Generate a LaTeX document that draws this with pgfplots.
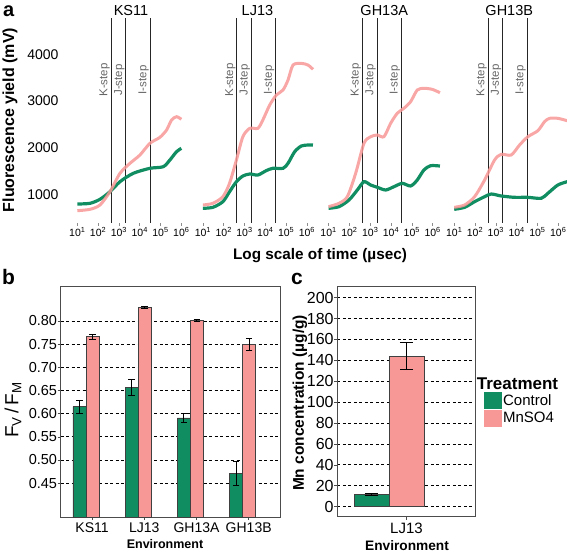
\documentclass[border=0pt]{standalone}
\usepackage{fontspec}
\setmainfont{Liberation Sans}
\usepackage{pgfplots}
\pgfplotsset{compat=1.18}
\definecolor{cgreen}{RGB}{17,141,98}
\definecolor{cpink}{RGB}{248,152,150}
\newcommand{\fs}[1]{\fontsize{#1}{#1}\selectfont}
\tikzset{
  gline/.style={cgreen, line width=3.2pt, smooth, tension=0.45},
  pline/.style={cpink, line width=3pt, opacity=0.85, smooth, tension=0.45},
  vl/.style={black!85, line width=0.6pt},
  stp/.style={rotate=90, anchor=south, inner sep=1pt, text=black!60, font=\fs{11.5}},
  strip/.style={anchor=base, font=\fs{14.5}},
}
\pgfplotsset{
  facet/.style={scale only axis, width=124pt, height=205pt,
    xmin=0.73, xmax=6.69, ymin=385, ymax=4778,
    axis line style={draw=none}, clip=false,
    xtick={1,2,3,4,5,6},
    xticklabels={10\textsuperscript{1},10\textsuperscript{2},10\textsuperscript{3},10\textsuperscript{4},10\textsuperscript{5},10\textsuperscript{6}},
    xtick pos=lower, tick align=outside, major tick length=3pt,
    x tick style={black!45, line width=0.6pt},
    xticklabel style={font=\fs{10.5}, inner sep=1.5pt},
    ytick=\empty},
  barax/.style={scale only axis, ybar, tick align=outside, major tick length=3pt,
    tick style={black!70, line width=0.6pt}, xtick pos=lower, ytick pos=left,
    axis line style={black!70, line width=0.8pt},
    ymajorgrids, major grid style={black, line width=0.8pt, dash pattern=on 3pt off 2.5pt}},
  bstyle/.style={draw=black!75, line width=0.6pt, bar shift=0pt,
    error bars/.cd, y dir=both, y explicit,
    error bar style={black, line width=1pt},
    error mark options={black, rotate=90, mark size=#1, line width=1pt}},
}
\begin{document}
\begin{tikzpicture}[x=1pt,y=1pt]
\useasboundingbox (0,0) rectangle (567,552);

% ---------------- panel a ----------------
\begin{axis}[facet, at={(71.7pt,329pt)},
  ytick={1000,2000,3000,4000}, yticklabels={1000,2000,3000,4000},
  ytick pos=left, y tick style={draw=none},
  yticklabel style={font=\fs{14}, inner sep=0pt, xshift=-10pt}]
\addplot[vl] coordinates {(2.62,385) (2.62,4778)};
\addplot[vl] coordinates {(3.32,385) (3.32,4778)};
\addplot[vl] coordinates {(4.49,385) (4.49,4778)};
\addplot[gline] coordinates {(1.0,792)(1.61,807)(2.09,893)(2.57,1056)(3.05,1270)(3.69,1450)(4.49,1557)(5.13,1591)(5.45,1735)(5.77,1913)(6.0,1985)};
\addplot[pline] coordinates {(1.0,649)(1.61,678)(2.09,771)(2.57,1056)(3.05,1450)(3.53,1664)(4.01,1842)(4.49,2093)(4.97,2221)(5.29,2378)(5.53,2592)(5.77,2663)(6.0,2607)};
\node[stp] at (axis cs:2.62,3450) {K-step};
\node[stp] at (axis cs:3.32,3450) {J-step};
\node[stp] at (axis cs:4.49,3450) {I-step};
\node[strip] at (rel axis cs:0.478,1.0146) {KS11};
\end{axis}

\begin{axis}[facet, at={(197.3pt,329pt)}]
\addplot[vl] coordinates {(2.62,385) (2.62,4778)};
\addplot[vl] coordinates {(3.32,385) (3.32,4778)};
\addplot[vl] coordinates {(4.49,385) (4.49,4778)};
\addplot[gline] coordinates {(1.0,700)(1.48,721)(1.96,842)(2.28,1056)(2.61,1270)(2.92,1392)(3.25,1435)(3.64,1413)(4.04,1506)(4.36,1557)(4.85,1557)(5.09,1664)(5.41,1913)(5.73,2035)(6.05,2056)(6.29,2056)};
\addplot[pline] coordinates {(1.0,771)(1.48,807)(1.96,950)(2.28,1236)(2.61,1735)(2.92,2234)(3.25,2414)(3.64,2414)(3.88,2592)(4.21,2913)(4.53,3128)(4.85,3235)(5.09,3449)(5.33,3770)(5.73,3806)(6.05,3770)(6.29,3678)};
\node[stp] at (axis cs:2.62,3450) {K-step};
\node[stp] at (axis cs:3.32,3450) {J-step};
\node[stp] at (axis cs:4.49,3450) {I-step};
\node[strip] at (rel axis cs:0.485,1.0146) {LJ13};
\end{axis}

\begin{axis}[facet, at={(323pt,329pt)}]
\addplot[vl] coordinates {(2.62,385) (2.62,4778)};
\addplot[vl] coordinates {(3.32,385) (3.32,4778)};
\addplot[vl] coordinates {(4.49,385) (4.49,4778)};
\addplot[gline] coordinates {(1.0,700)(1.50,735)(1.98,878)(2.38,1092)(2.70,1270)(3.02,1199)(3.34,1150)(3.74,1092)(4.14,1163)(4.54,1235)(4.94,1178)(5.26,1306)(5.58,1521)(5.90,1613)(6.35,1606)};
\addplot[pline] coordinates {(1.0,735)(1.50,807)(1.90,950)(2.30,1450)(2.70,2093)(3.02,2234)(3.34,2271)(3.66,2234)(3.98,2521)(4.30,2736)(4.62,2843)(4.94,2984)(5.26,3235)(5.58,3271)(5.98,3249)(6.35,3177)};
\node[stp] at (axis cs:2.62,3450) {K-step};
\node[stp] at (axis cs:3.32,3450) {J-step};
\node[stp] at (axis cs:4.49,3450) {I-step};
\node[strip] at (rel axis cs:0.494,1.0146) {GH13A};
\end{axis}

\begin{axis}[facet, at={(448.6pt,329pt)}]
\addplot[vl] coordinates {(2.62,385) (2.62,4778)};
\addplot[vl] coordinates {(3.32,385) (3.32,4778)};
\addplot[vl] coordinates {(4.49,385) (4.49,4778)};
\addplot[gline] coordinates {(1.0,678)(1.50,721)(1.98,842)(2.46,949)(2.78,1006)(3.26,964)(3.90,935)(4.54,935)(5.18,914)(5.50,1021)(5.98,1199)(6.43,1270)};
\addplot[pline] coordinates {(1.0,721)(1.50,771)(1.98,949)(2.46,1306)(2.94,1735)(3.26,1857)(3.74,1842)(4.14,2056)(4.54,2234)(5.02,2363)(5.34,2556)(5.58,2628)(5.98,2628)(6.43,2577)};
\node[stp] at (axis cs:2.62,3450) {K-step};
\node[stp] at (axis cs:3.32,3450) {J-step};
\node[stp] at (axis cs:4.49,3450) {I-step};
\node[strip] at (rel axis cs:0.489,1.0146) {GH13B};
\end{axis}

\node[rotate=90, font=\fs{16}\bfseries] at (10,432) {Fluorescence yield (mV)};
\node[anchor=base, font=\fs{15.3}\bfseries] at (320,292) {Log scale of time (µsec)};
\node[anchor=base west, inner sep=0pt, font=\fs{20}\bfseries] at (3,535) {a};

% ---------------- panel b ----------------
\begin{axis}[barax, at={(60.7pt,35pt)}, width=219.3pt, height=230.3pt,
  xmin=0.4, xmax=4.6, ymin=0.377, ymax=0.874, bar width=0.25,
  ytick={0.45,0.5,0.55,0.6,0.65,0.7,0.75,0.8},
  yticklabels={0.45,0.50,0.55,0.60,0.65,0.70,0.75,0.80},
  xtick={1,2,3,4}, xticklabels={KS11,LJ13,GH13A,GH13B},
  yticklabel style={font=\fs{14.5}, inner sep=0.5pt},
  xticklabel style={font=\fs{14}, inner sep=3pt}]
\addplot[fill=cgreen, bstyle=3.3pt] coordinates {(0.76,0.615) +- (0,0.014) (1.76,0.656) +- (0,0.017) (2.76,0.591) +- (0,0.009) (3.76,0.471) +- (0,0.025)};
\addplot[fill=cpink, bstyle=3.3pt] coordinates {(1.01,0.766) +- (0,0.005) (2.01,0.829) +- (0,0.003) (3.01,0.801) +- (0,0.003) (4.01,0.749) +- (0,0.013)};
\end{axis}
\node[rotate=90, font=\fs{19}] at (13,142) {F\textsubscript{V}\,/\,F\textsubscript{M}};
\node[anchor=base, font=\fs{12.5}\bfseries] at (165,4) {Environment};
\node[anchor=base west, inner sep=0pt, font=\fs{21}\bfseries] at (2,267) {b};

% ---------------- panel c ----------------
\begin{axis}[barax, at={(337.3pt,35.3pt)}, width=138.4pt, height=230pt,
  xmin=0.4, xmax=1.6, ymin=-9.6, ymax=210.5, bar width=0.3,
  ytick={0,20,40,60,80,100,120,140,160,180,200},
  yticklabels={0,20,40,60,80,100,120,140,160,180,200},
  xtick={1}, xticklabels={LJ13},
  yticklabel style={font=\fs{16}, inner sep=0.5pt},
  xticklabel style={font=\fs{15}, inner sep=3pt},
  legend style={at={(1.06,0.541)}, anchor=north west, draw=none, fill=none,
    inner sep=0pt, row sep=1pt, font=\fs{15}, nodes={inner sep=1.5pt}},
  legend cell align=left]
\addlegendimage{legend image code/.code={\fill[cgreen] (0pt,-8pt) rectangle (17pt,8pt);}}
\addlegendimage{legend image code/.code={\fill[cpink] (0pt,-8pt) rectangle (17pt,8pt);}}
\addplot[fill=cgreen, bstyle=6.5pt] coordinates {(0.70,12) +- (0,1)};
\addplot[fill=cpink, bstyle=6.7pt] coordinates {(1.0,144) +- (0,13.2)};
\legend{Control,MnSO4}
\end{axis}
\node[rotate=90, font=\fs{15.5}\bfseries] at (300,149) {Mn concentration (µg/g)};
\node[anchor=base, font=\fs{13.7}\bfseries] at (407,2) {Environment};
\node[anchor=base west, inner sep=0pt, font=\fs{17}\bfseries] at (476.7,162.7) {Treatment};
\node[anchor=base west, inner sep=0pt, font=\fs{21}\bfseries] at (291,267) {c};
\end{tikzpicture}
\end{document}
